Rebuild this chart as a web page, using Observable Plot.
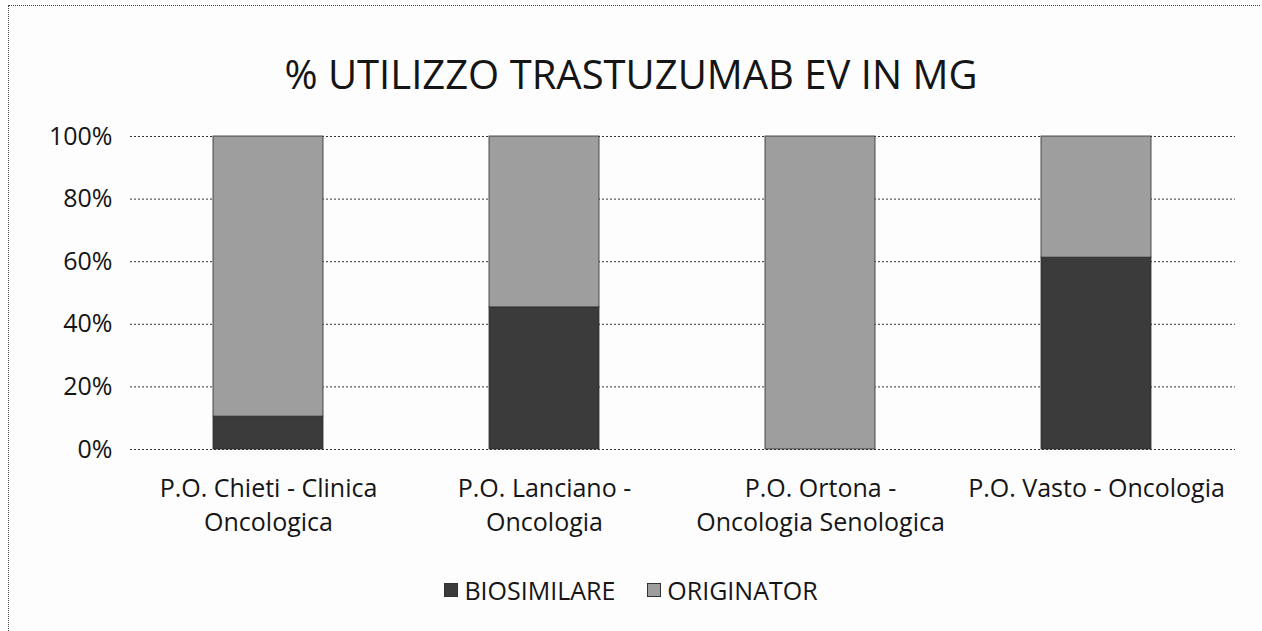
<!DOCTYPE html>
<html>
<head>
<meta charset="utf-8">
<script src="https://cdn.jsdelivr.net/npm/d3@7"></script>
<script src="https://cdn.jsdelivr.net/npm/@observablehq/plot@0.6"></script>
<style>
  html, body { margin: 0; padding: 0; background: #fff; }
  #frame { position: relative; width: 1262px; height: 631px; overflow: hidden; background: #fdfdfd;
           font-family: "Open Sans", sans-serif; color: #151515; }
  #border-top { position: absolute; left: 8px; top: 5px; width: 1252px; border-top: 1px dotted #444; }
  #border-left { position: absolute; left: 8px; top: 5px; height: 626px; border-left: 1px dotted #444; }
  #title { position: absolute; left: 0; width: 1262px; top: 46px; text-align: center; font-size: 40px; line-height: 56px; color: #151515; }
  #chart { position: absolute; left: 0; top: 110px; }
  #legend { position: absolute; left: 0; width: 1262px; top: 569px; text-align: center; font-size: 25px; line-height: 36px; }
  .item { display: inline-flex; align-items: center; margin: 0 16px; }
  .sw { display: inline-block; width: 14px; height: 14px; margin-right: 6px; border: 1px solid #333; box-sizing: border-box; }
</style>
</head>
<body>
<div id="frame">
  <div id="border-top"></div>
  <div id="border-left"></div>
  <div id="title"></div>
  <div id="chart"></div>
  <div id="legend"></div>
</div>
<script>
const titleText = "% UTILIZZO TRASTUZUMAB EV IN MG";
const categories = ["P.O. Chieti - Clinica Oncologica", "P.O. Lanciano - Oncologia", "P.O. Ortona - Oncologia Senologica", "P.O. Vasto - Oncologia"];
const tickLabels = ["P.O. Chieti - Clinica\nOncologica", "P.O. Lanciano -\nOncologia", "P.O. Ortona -\nOncologia Senologica", "P.O. Vasto - Oncologia"];
const seriesNames = ["BIOSIMILARE", "ORIGINATOR"];
const seriesColors = ["#3b3b3b", "#9e9e9e"];
const biosimilare = [0.105, 0.454, 0.0, 0.613];
const originator = [0.895, 0.546, 1.0, 0.387];
const yTicks = [0, 0.2, 0.4, 0.6, 0.8, 1.0];
const yTickLabels = ["0%", "20%", "40%", "60%", "80%", "100%"];

document.getElementById("title").textContent = titleText;

const data = [];
categories.forEach((c, i) => {
  data.push({cat: c, series: seriesNames[0], value: biosimilare[i]});
  data.push({cat: c, series: seriesNames[1], value: originator[i]});
});

const labelOf = new Map(categories.map((c, i) => [c, tickLabels[i]]));
const yLabelOf = new Map(yTicks.map((t, i) => [t, yTickLabels[i]]));

const chart = Plot.plot({
  width: 1262,
  height: 440,
  marginTop: 26,
  marginBottom: 101,
  marginLeft: 130,
  marginRight: 27,
  style: {fontFamily: "Open Sans, sans-serif", fontSize: "25px", color: "#151515", background: "transparent"},
  x: {domain: categories, paddingInner: 0.6, paddingOuter: 0.3, label: null},
  y: {domain: [0, 1], label: null},
  color: {domain: seriesNames, range: seriesColors},
  marks: [
    Plot.ruleY(yTicks, {stroke: "#333", strokeWidth: 1, strokeDasharray: "2,2"}),
    Plot.barY(data, {x: "cat", y: "value", fill: "series", stroke: "#2a2a2a", strokeWidth: 0.8}),
    Plot.axisY({ticks: yTicks, tickSize: 0, tickPadding: 18, tickFormat: d => yLabelOf.get(d), fontSize: 25, label: null}),
    Plot.axisX({tickSize: 0, tickPadding: 24, tickFormat: d => labelOf.get(d), fontSize: 25, lineHeight: 1.35, label: null})
  ]
});
document.getElementById("chart").appendChild(chart);

const legend = document.getElementById("legend");
seriesNames.forEach((s, i) => {
  const item = document.createElement("span");
  item.className = "item";
  const sw = document.createElement("span");
  sw.className = "sw";
  sw.style.background = seriesColors[i];
  item.appendChild(sw);
  item.appendChild(document.createTextNode(s));
  legend.appendChild(item);
});
</script>
</body>
</html>
